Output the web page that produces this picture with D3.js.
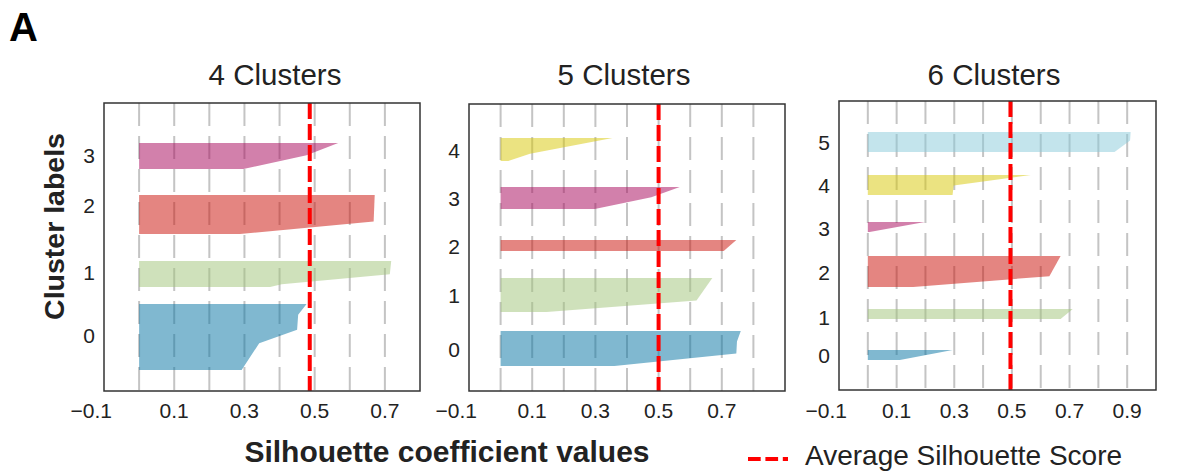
<!DOCTYPE html>
<html>
<head>
<meta charset="utf-8">
<script src="https://cdn.jsdelivr.net/npm/d3@7"></script>
<style>
  html, body { margin: 0; padding: 0; background: #fff; }
  svg { display: block; }
  text { font-family: "Liberation Sans", Arial, Helvetica, sans-serif; fill: #222; }
</style>
</head>
<body>
<svg id="chart" width="1178" height="474"></svg>
<script>
// ---------------- DATA ----------------
const panelTitles = ["4 Clusters", "5 Clusters", "6 Clusters"];
const avgScores = [0.486, 0.500, 0.495];
const xDomains = [[-0.1, 0.8], [-0.1, 0.9], [-0.1, 1.0]];
const xTickLabels = [
  [-0.1, 0.1, 0.3, 0.5, 0.7],
  [-0.1, 0.1, 0.3, 0.5, 0.7],
  [-0.1, 0.1, 0.3, 0.5, 0.7, 0.9]
];
const gridTicks = [
  [0, 0.1, 0.2, 0.3, 0.4, 0.5, 0.6, 0.7],
  [0, 0.1, 0.2, 0.3, 0.4, 0.5, 0.6, 0.7, 0.8],
  [0, 0.1, 0.2, 0.3, 0.4, 0.5, 0.6, 0.7, 0.8, 0.9]
];
// total sample axis length per panel (y domain)
const sampleTotals = [288, 287, 289];

// cluster sample ranges [lower, upper] (sample index units)
const ranges4 = [[21, 87], [104, 130], [157, 196], [222, 248]];
const ranges5 = [[25, 60], [79, 113], [140, 151], [182, 204], [230, 253]];
const ranges6 = [[30, 40], [71, 81], [103, 134], [158, 168], [195, 215], [238, 258]];

// silhouette profiles: [relative rank within cluster, silhouette value]
const profiles4 = [
  [[0, 0.292], [0.406, 0.342], [0.609, 0.450], [0.838, 0.453], [1, 0.477]],
  [[0, 0.373], [0.11, 0.406], [0.49, 0.714], [1, 0.718]],
  [[0, 0.287], [0.32, 0.668], [1, 0.671]],
  [[0, 0.297], [0.53, 0.477], [1, 0.567]]
];
const profiles5 = [
  [[0, 0.36], [0.36, 0.746], [0.70, 0.748], [1, 0.760]],
  [[0, 0.145], [0.34, 0.620], [1, 0.670]],
  [[0, 0.706], [1, 0.746]],
  [[0, 0.298], [0.53, 0.477], [1, 0.567]],
  [[0, 0.024], [0.32, 0.093], [1, 0.354]]
];
const profiles6 = [
  [[0, 0.111], [1, 0.294]],
  [[0, 0.669], [1, 0.711]],
  [[0, 0.157], [0.35, 0.630], [1, 0.669]],
  [[0, 0.006], [1, 0.198]],
  [[0, 0.294], [0.47, 0.298], [1, 0.565]],
  [[0, 0.856], [0.58, 0.910], [1, 0.912]]
];
// y label positions (sample units)
const labelPos4 = [56, 119, 186, 236];
const labelPos5 = [42, 96, 145, 193, 241];
const labelPos6 = [35, 73, 118, 162, 205, 248];

const clusterColors = ["#0272a2", "#9fc377", "#ca0b03", "#a50258", "#d7c703", "#88cada"];

// ---------------- LAYOUT ----------------
const layouts = [
  { left: 104, right: 420, top: 103, bottom: 391, titleX: 275 },
  { left: 469, right: 785, top: 104, bottom: 391, titleX: 624 },
  { left: 839, right: 1156, top: 101, bottom: 390, titleX: 994 }
];
const allRanges = [ranges4, ranges5, ranges6];
const allProfiles = [profiles4, profiles5, profiles6];
const allLabelPos = [labelPos4, labelPos5, labelPos6];

const svg = d3.select("#chart");
const fmt = d3.format(".1f");

layouts.forEach((L, p) => {
  const x = d3.scaleLinear().domain(xDomains[p]).range([L.left, L.right]);
  const y = d3.scaleLinear().domain([0, sampleTotals[p]]).range([L.bottom, L.top]);
  const g = svg.append("g");

  // dashed vertical grid
  g.selectAll("line.grid").data(gridTicks[p]).join("line")
    .attr("class", "grid")
    .attr("x1", d => x(d)).attr("x2", d => x(d))
    .attr("y1", L.top).attr("y2", L.bottom)
    .attr("stroke", "#c4c4c4").attr("stroke-width", 2)
    .attr("stroke-dasharray", "23,10");

  // silhouette fills
  allRanges[p].forEach((r, i) => {
    const pts = allProfiles[p][i];
    const area = d3.area()
      .y(d => y(r[0] + d[0] * (r[1] - r[0])))
      .x0(x(0))
      .x1(d => x(d[1]));
    g.append("path")
      .attr("d", area(pts))
      .attr("fill", clusterColors[i])
      .attr("fill-opacity", 0.5);
  });

  // y labels (cluster ids)
  g.selectAll("text.ylab").data(allLabelPos[p]).join("text")
    .attr("class", "ylab")
    .attr("x", L.left - 9)
    .attr("y", d => y(d))
    .attr("dy", "0.36em")
    .attr("text-anchor", "end")
    .style("font-size", "21px")
    .text((d, i) => i);

  // x tick labels
  g.selectAll("text.xlab").data(xTickLabels[p]).join("text")
    .attr("class", "xlab")
    .attr("x", d => d < 0 ? x(d) + 8 : x(d))
    .attr("y", 418)
    .attr("text-anchor", d => d < 0 ? "end" : "middle")
    .style("font-size", "21px")
    .text(d => fmt(d));

  // average silhouette line
  g.append("line")
    .attr("x1", x(avgScores[p])).attr("x2", x(avgScores[p]))
    .attr("y1", L.top).attr("y2", L.bottom)
    .attr("stroke", "#ff0000").attr("stroke-width", 4)
    .attr("stroke-dasharray", "16,5");

  // frame
  g.append("rect")
    .attr("x", L.left).attr("y", L.top)
    .attr("width", L.right - L.left).attr("height", L.bottom - L.top)
    .attr("fill", "none").attr("stroke", "#333").attr("stroke-width", 1.5);

  // title
  svg.append("text")
    .attr("x", L.titleX).attr("y", 85)
    .attr("text-anchor", "middle")
    .style("font-size", "29.5px")
    .text(panelTitles[p]);
});

// panel letter
svg.append("text").attr("x", 9).attr("y", 41)
  .style("font-size", "40px").style("font-weight", "bold").style("fill", "#000")
  .text("A");

// axis titles
svg.append("text")
  .attr("transform", "translate(64,226.5) rotate(-90)")
  .attr("text-anchor", "middle")
  .style("font-size", "28.5px").style("font-weight", "bold")
  .text("Cluster labels");

svg.append("text")
  .attr("x", 447).attr("y", 462)
  .attr("text-anchor", "middle")
  .style("font-size", "30px").style("font-weight", "bold")
  .text("Silhouette coefficient values");

// legend
svg.append("line")
  .attr("x1", 748).attr("x2", 788).attr("y1", 459).attr("y2", 459)
  .attr("stroke", "#ff0000").attr("stroke-width", 4)
  .attr("stroke-dasharray", "12.7,4.7");
svg.append("text")
  .attr("x", 805).attr("y", 465)
  .style("font-size", "28px")
  .text("Average Silhouette Score");
</script>
</body>
</html>
